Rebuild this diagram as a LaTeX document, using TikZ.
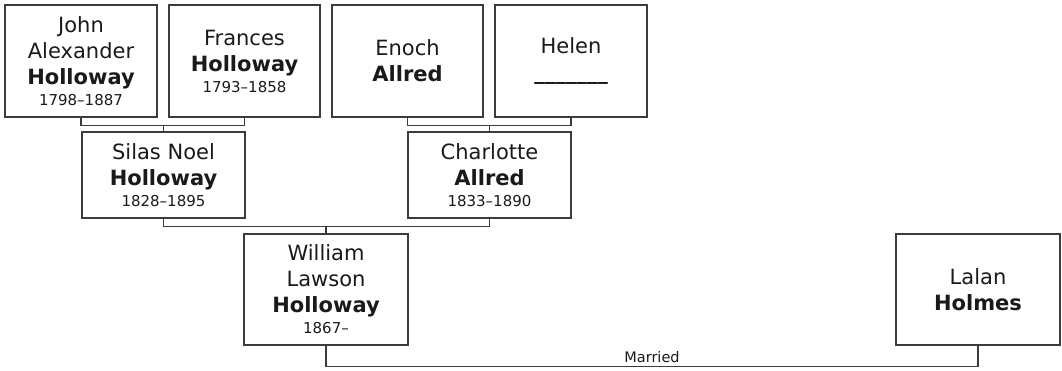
\documentclass[tikz,border=0pt]{standalone}
\usepackage{fontspec}
\setmainfont{DejaVu Sans}
\usepackage{tikz}
\usepackage{xcolor}
\definecolor{FrameGray}{HTML}{3C3C3C}
\definecolor{InkBlack}{HTML}{1A1A1A}
\newcommand{\yrs}[1]{\\[-5pt]{\fontsize{15}{18}\selectfont #1}}
\begin{document}
\begin{tikzpicture}[
      x=1pt,y=-1pt,
      font=\fontsize{21}{26}\selectfont,
      person/.style={draw=FrameGray,fill=white,line width=1.3pt,text=InkBlack,align=center,inner sep=0pt,minimum width=152pt,minimum height=112pt},
      child/.style={person,minimum width=163pt,minimum height=86pt},
      link/.style={draw=FrameGray,line width=1.3pt}
    ]
      \useasboundingbox (0,0) rectangle (1062,371);
      \node[person] (john) at (81,61) {John\\Alexander\\\textbf{Holloway}\yrs{1798--1887}};
      \node[person,minimum width=151pt] (frances) at (244.5,61) {Frances\\\textbf{Holloway}\yrs{1793--1858}};
      \node[person,minimum width=151pt] (enoch) at (407.5,61) {Enoch\\\textbf{Allred}};
      \node[person] (helen) at (571,61) {Helen\\\textbf{\_\_\_\_\_\_\_}};
      \node[child] (silas) at (163.5,175) {Silas Noel\\\textbf{Holloway}\yrs{1828--1895}};
      \node[child] (charlotte) at (489.5,175) {Charlotte\\\textbf{Allred}\yrs{1833--1890}};
      \node[person,minimum width=164pt,minimum height=111pt] (william) at (326,289.5) {William\\Lawson\\\textbf{Holloway}\yrs{1867--}};
      \node[person,minimum width=164pt,minimum height=111pt] (lalan) at (978,289.5) {Lalan\\\textbf{Holmes}};
      % parents to children
      \draw[link] (john.south) -- ++(0,8) coordinate (jf) -| (frances.south);
      \draw[link] (silas.north) -- (silas.north |- jf);
      \draw[link] (enoch.south) -- ++(0,8) coordinate (eh) -| (helen.south);
      \draw[link] (charlotte.north) -- (charlotte.north |- eh);
      \draw[link] (silas.south) -- ++(0,8) coordinate (sc) -| (charlotte.south);
      \draw[link] (william.north) -- (william.north |- sc);
      % marriage
      \draw[link] (william.south) -- ++(0,21) -| node[pos=0.25,above=0pt,font=\fontsize{14.5}{17}\selectfont,text=InkBlack] {Married} (lalan.south);
    \end{tikzpicture}
\end{document}
